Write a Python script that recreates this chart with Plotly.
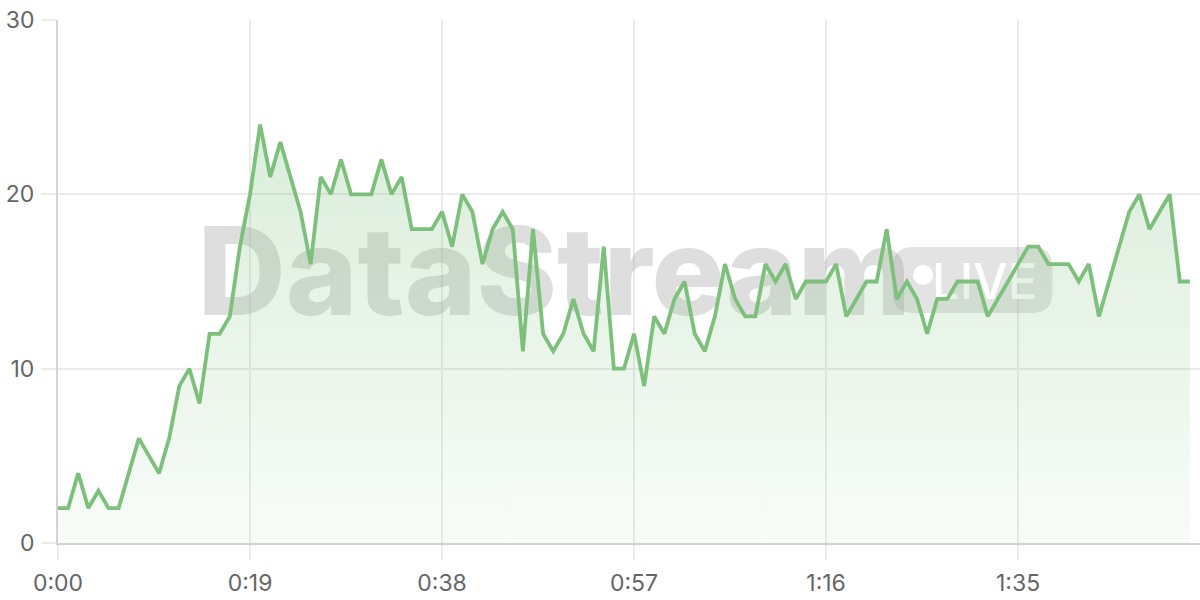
import plotly.graph_objects as go

seconds = list(range(113))
values = [2, 2, 4, 2, 3, 2, 2, 4, 6, 5, 4, 6, 9, 10, 8, 12, 12, 13, 17, 20,
          24, 21, 23, 21, 19, 16, 21, 20, 22, 20, 20, 20, 22, 20, 21, 18, 18, 18, 19, 17,
          20, 19, 16, 18, 19, 18, 11, 18, 12, 11, 12, 14, 12, 11, 17, 10, 10, 12, 9, 13,
          12, 14, 15, 12, 11, 13, 16, 14, 13, 13, 16, 15, 16, 14, 15, 15, 15, 16, 13, 14,
          15, 15, 18, 14, 15, 14, 12, 14, 14, 15, 15, 15, 13, 14, 15, 16, 17, 17, 16, 16,
          16, 15, 16, 13, 15, 17, 19, 20, 18, 19, 20, 15, 15]
x_tick_vals = [0, 19, 38, 57, 76, 95]
x_tick_text = ["0:00", "0:19", "0:38", "0:57", "1:16", "1:35"]
y_tick_vals = [0, 10, 20, 30]

LINE = "rgb(124,192,124)"
GRID = "#ebebeb"
AXIS = "#d2d2d2"
FONT = "Inter, 'Open Sans', sans-serif"

fig = go.Figure()
fig.add_trace(go.Scatter(
    x=seconds, y=values, mode="lines",
    line=dict(color=LINE, width=3.8, shape="linear"),
    fill="tozeroy",
    fillgradient=dict(type="vertical",
                      colorscale=[[0, "rgba(124,192,124,0.05)"], [1, "rgba(124,192,124,0.28)"]]),
    hoverinfo="x+y", showlegend=False,
))

def rounded_rect(x0, x1, y0, y1, rx, ry):
    return (f"M{x0+rx},{y0} L{x1-rx},{y0} Q{x1},{y0} {x1},{y0+ry} "
            f"L{x1},{y1-ry} Q{x1},{y1} {x1-rx},{y1} L{x0+rx},{y1} "
            f"Q{x0},{y1} {x0},{y1-ry} L{x0},{y0+ry} Q{x0},{y0} {x0+rx},{y0} Z")

shapes = [
    dict(type="rect", xref="x", yref="y", x0=14.5, x1=83.7, y0=13.2, y1=18.5,
         layer="between", line=dict(width=0), fillcolor="rgba(0,0,0,0)",
         label=dict(text="DataStream", textposition="middle center",
                    font=dict(family=FONT, size=122, color="rgba(140,140,140,0.29)", weight=800))),
    dict(type="path", xref="x", yref="y", layer="between",
         path=rounded_rect(82.6, 98.4, 13.2, 16.98, 2.0, 1.15),
         line=dict(width=0), fillcolor="rgba(150,150,150,0.27)"),
    dict(type="circle", xref="x", yref="y", layer="between",
         x0=84.6, x1=86.6, y0=14.8, y1=15.95,
         line=dict(width=0), fillcolor="white"),
    dict(type="rect", xref="x", yref="y", x0=86.9, x1=96.5, y0=13.2, y1=16.98,
         layer="between", line=dict(width=0), fillcolor="rgba(0,0,0,0)",
         label=dict(text="LIVE", textposition="middle center",
                    font=dict(family=FONT, size=49, color="white", weight=500))),
]

fig.update_layout(
    width=1200, height=600,
    margin=dict(l=58, r=0, t=20, b=57, autoexpand=False),
    paper_bgcolor="white", plot_bgcolor="white",
    shapes=shapes,
    font=dict(family=FONT, size=23, color="#666666"),
    xaxis=dict(range=[0, 113], tickmode="array", tickvals=x_tick_vals, ticktext=x_tick_text,
               showgrid=True, gridcolor=GRID, gridwidth=1.5,
               ticks="outside", ticklen=15, tickcolor=GRID, tickwidth=1.5,
               showline=True, linecolor=AXIS, linewidth=2, automargin=False,
               zeroline=False, fixedrange=True, ticklabelstandoff=3),
    yaxis=dict(range=[0, 30], tickmode="array", tickvals=y_tick_vals,
               showgrid=True, gridcolor=GRID, gridwidth=1.5,
               ticks="outside", ticklen=15, tickcolor=GRID, tickwidth=1.5,
               showline=True, linecolor=AXIS, linewidth=2, automargin=False,
               zeroline=False, fixedrange=True, ticklabelstandoff=2),
)

fig.write_html("out.html", config={"displayModeBar": False},
               post_script="document.body.style.margin='0';document.body.style.overflow='hidden';")
